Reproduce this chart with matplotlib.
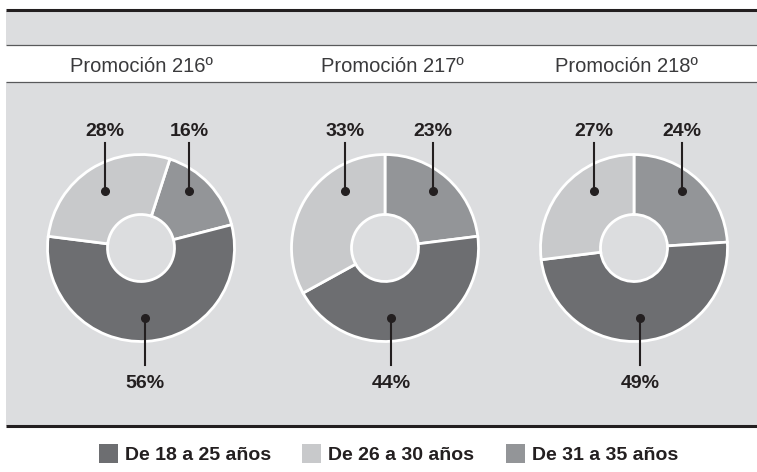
import numpy as np
import matplotlib.pyplot as plt
from matplotlib.patches import Rectangle

# ─── Datos ────────────────────────────────────────────────────────
promociones = ['Promoción 216º', 'Promoción 217º', 'Promoción 218º']
grupos = ['De 18 a 25 años', 'De 26 a 30 años', 'De 31 a 35 años']
edad_18_25 = [56, 44, 49]
edad_26_30 = [28, 33, 27]
edad_31_35 = [16, 23, 24]
inicio = [72, 90, 90]   # angulo donde empieza el tramo 31-35 (sentido horario)

# ─── Colores ──────────────────────────────────────────────────────
C_OSC = '#6d6e71'
C_CLA = '#c8c9cb'
C_MED = '#939598'
C_FON = '#dcdddf'
C_TXT = '#231f20'
colores = [C_OSC, C_CLA, C_MED]

W, H = 757, 472
fig = plt.figure(figsize=(W / 100, H / 100), dpi=100)
fig.patch.set_facecolor('white')
ax = fig.add_axes([0, 0, 1, 1])


def Y(y):
    return H - y


# ─── Fondo y lineas ───────────────────────────────────────────────
ax.add_patch(Rectangle((6, Y(45)), W - 6, 34, facecolor=C_FON, edgecolor='none', zorder=0))
ax.add_patch(Rectangle((6, Y(426)), W - 6, 426 - 82, facecolor=C_FON, edgecolor='none', zorder=0))
ax.plot([6, W], [Y(10), Y(10)], color=C_TXT, lw=2.2, solid_capstyle='butt', zorder=1)
ax.plot([6, W], [Y(45), Y(45)], color='#58595b', lw=0.9, solid_capstyle='butt', zorder=1)
ax.plot([6, W], [Y(82), Y(82)], color='#58595b', lw=0.9, solid_capstyle='butt', zorder=1)
ax.plot([6, W], [Y(426), Y(426)], color=C_TXT, lw=2.2, solid_capstyle='butt', zorder=1)

centros_x = [141, 385, 634]
titulos_x = [141.5, 392.5, 626]
cy = Y(248)
R, ANCHO = 93.5, 60
dy_sup, dy_inf = 57, 70

fuente = ['Liberation Sans', 'DejaVu Sans']


def norm(a):
    return (a + 180) % 360 - 180


for i, cx in enumerate(centros_x):
    vals = [edad_31_35[i], edad_18_25[i], edad_26_30[i]]
    cols = [C_MED, C_OSC, C_CLA]
    wedges, _ = ax.pie(vals, colors=cols, radius=R, center=(cx, cy),
                       startangle=inicio[i], counterclock=False, frame=True,
                       wedgeprops=dict(width=ANCHO, edgecolor='white', linewidth=2))
    for w, v, k in zip(wedges, vals, ['sup', 'inf', 'sup']):
        mid = norm((w.theta1 + w.theta2) / 2)
        if k == 'sup':
            ang = np.radians(np.clip(mid, 50, 125))
            px = cx + dy_sup / np.tan(ang)
            py = cy + dy_sup
            ly0, ly = Y(143), Y(131)
        else:
            ang = np.radians(np.clip(mid, -95, -85))
            px = cx - dy_inf / np.tan(ang)
            py = cy - dy_inf
            ly0, ly = Y(365), Y(384)
        ax.plot([px, px], [py, ly0], color=C_TXT, lw=1.5, zorder=5)
        ax.plot(px, py, 'o', color=C_TXT, markersize=5.5, zorder=6)
        ax.text(px, ly, f'{v}%', ha='center', va='center', fontsize=14,
                fontweight='bold', color=C_TXT, family=fuente, zorder=6)
    ax.text(titulos_x[i], Y(66), promociones[i], ha='center', va='center',
            fontsize=14.5, color='#3a3a3c', family=fuente)

# ─── Leyenda ──────────────────────────────────────────────────────
ley_x = [99, 302, 506]
for x, g, c in zip(ley_x, grupos, colores):
    ax.add_patch(Rectangle((x, Y(463)), 19, 19, facecolor=c, edgecolor='none'))
    ax.text(x + 26, Y(455.5), g, ha='left', va='center', fontsize=14,
            fontweight='bold', color=C_TXT, family=fuente)

ax.set_aspect('auto')
ax.set_xlim(0, W)
ax.set_ylim(0, H)
ax.axis('off')

fig.savefig('out.png', dpi=100, facecolor=fig.get_facecolor())
